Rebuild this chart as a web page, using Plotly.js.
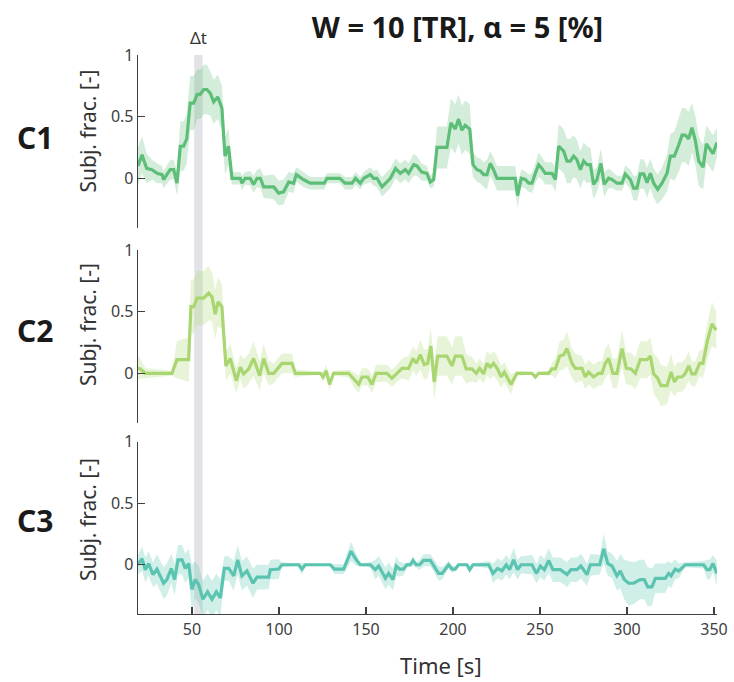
<!DOCTYPE html>
<html>
<head>
<meta charset="utf-8">
<script src="https://cdn.plot.ly/plotly-3.0.1.min.js"></script>
<style>html,body{margin:0;padding:0;background:#fff;}#chart{width:734px;height:682px;}</style>
</head>
<body>
<div id="chart"></div>
<script>
// ---------------- DATA ----------------
const chartTitle = "W = 10 [TR], α = 5 [%]";
const panelNames = ["C1", "C2", "C3"];
const yTitle = "Subj. frac. [-]";
const xTitle = "Time [s]";
const xTickVals = [50, 100, 150, 200, 250, 300, 350];
const yTickVals = [0, 0.5, 1];
const yTickText = ["0", "0.5", "1"];
const deltaT = [51.3, 56.1];   // highlighted window (s)

const c1Time = [19,21.3,24,27,30,32.8,33.7,37.5,39.5,41.4,
  43.3,45.2,47,49,51,53,54.8,56.7,58.6,60.5,
  62.5,64.8,67.2,69,71,73,77.8,78.7,80.6,83.5,
  85.4,87.4,89.3,91.2,97,99.8,102.7,105.6,108.4,110,
  114,118,126,127.6,135,138,142,144,146.7,148.7,
  152.5,154.4,156.3,159.2,162,164,167,169.7,172.6,174.5,
  177.4,179.3,182,185,187,188.9,190.8,196.5,198.8,201.3,
  203.2,205.1,207,209.6,211.5,213.8,215.7,217.6,219.5,221.4,
  223.3,225.3,235.8,237.1,239.2,241.5,243.5,245.4,247.3,249.2,
  251.1,253,256.9,258.8,260.7,263.6,265.5,267.4,269.3,271.2,
  273.2,275.1,277,278.9,280.8,282.7,285,286.9,289.4,291.3,
  294.2,297.1,299,301.9,303.8,305.7,307.6,309.6,311.5,313.4,
  315.3,317.6,320.1,323,324.9,327.2,329.7,331.6,333.5,335.4,
  337.3,339.2,341.2,343.7,345.6,347.5,349.4,351.7];
const c1Mean = [0.1,0.19,0.08,0.07,0.04,0.03,-0.01,0.07,0.07,-0.04,
  0.26,0.26,0.32,0.61,0.61,0.68,0.68,0.72,0.72,0.69,
  0.62,0.66,0.57,0.18,0.26,0,0,-0.04,0,0,
  -0.05,0,0,-0.07,-0.07,-0.12,-0.11,-0.03,-0.04,0.03,
  -0.01,-0.04,-0.04,0,0,-0.04,-0.04,0,-0.04,0,
  0.03,0,0,-0.07,-0.03,0,0.08,0.04,0.07,0.04,
  0.11,0.1,0.05,0.04,-0.03,-0.01,0.25,0.25,0.45,0.40,
  0.48,0.39,0.43,0.40,0.11,0.07,0.06,0.03,0.03,0.12,
  0.07,0,0,-0.14,0,-0.01,-0.04,-0.04,0.04,0.11,
  0.08,0.04,0.04,-0.01,0.26,0.22,0.14,0.14,0.18,0.15,
  0.07,0.14,0.11,0.11,-0.05,-0.01,0.12,-0.05,0,-0.01,
  -0.04,-0.04,0.035,-0.01,-0.08,-0.08,0.035,0.035,-0.035,0.04,
  -0.04,-0.09,-0.04,0.04,0.18,0.18,0.27,0.35,0.35,0.32,
  0.41,0.31,0.14,0.09,0.28,0.24,0.2,0.29];
const c1Ci = [0.15,0.15,0.12,0.08,0.08,0.07,0.07,0.08,0.08,0.1,
  0.2,0.2,0.2,0.22,0.22,0.2,0.2,0.2,0.2,0.18,
  0.18,0.18,0.18,0.15,0.15,0.05,0.05,0.06,0.05,0.06,
  0.07,0.07,0.08,0.09,0.1,0.1,0.1,0.08,0.08,0.06,
  0.06,0.05,0.05,0.04,0.04,0.05,0.05,0.05,0.05,0.05,
  0.06,0.06,0.07,0.08,0.08,0.08,0.08,0.08,0.08,0.08,
  0.09,0.08,0.07,0.06,0.05,0.06,0.17,0.17,0.2,0.2,
  0.2,0.2,0.2,0.2,0.1,0.1,0.1,0.1,0.12,0.1,
  0.1,0.1,0.1,0.1,0.07,0.07,0.07,0.08,0.08,0.1,
  0.09,0.09,0.09,0.1,0.18,0.18,0.18,0.18,0.17,0.16,
  0.15,0.15,0.15,0.14,0.12,0.1,0.12,0.1,0.08,0.07,
  0.06,0.06,0.07,0.08,0.1,0.1,0.12,0.12,0.12,0.12,
  0.12,0.12,0.13,0.15,0.18,0.2,0.22,0.22,0.22,0.22,
  0.2,0.2,0.2,0.18,0.15,0.15,0.15,0.12];

const c2Time = [19,20.3,23.2,38.5,41.4,48.1,49.4,51,52.9,56.7,
  59.6,61.5,63.4,65,67.2,69.5,72,75.5,77.8,79.7,
  82.6,85.4,88.9,91.2,94.1,97,101.7,107.5,109.4,123.8,
  125.3,127.2,129.1,131.4,140,142.9,145.8,147.7,151,153.4,
  155.9,162,164.9,167.8,170.7,174.5,177,178.9,181.2,183.5,
  185.4,187.3,189.2,191.2,196.5,199.4,201.3,205.1,207.6,210.9,
  213.4,215.3,217.6,219.5,221.4,223.3,225.6,227.6,229.5,233.3,
  236.8,245.4,247.3,249.2,254.9,256.9,258.8,261.3,263.6,265.5,
  268.4,270.3,274.1,276,277.9,280.8,283.7,285.6,287.5,289.4,
  291.9,294.2,297.1,299.6,302.3,304.8,307.6,311.5,313.4,315.3,
  317.6,319.5,323,325.3,327.2,329.1,331.6,333.5,335.4,337.3,
  339.2,341.7,343.6,346.3,348.8,351.3];
const c2Mean = [0.04,0.035,0,0,0.11,0.11,0.54,0.54,0.61,0.61,
  0.65,0.62,0.48,0.58,0.54,0.06,0.12,-0.06,0.05,-0.005,
  0.035,0.12,-0.02,0.12,0,0,0.08,0.08,0,0,
  -0.03,0.02,-0.09,0,0,-0.05,-0.09,-0.03,-0.03,-0.09,
  0,0,-0.04,0,0.04,0.04,0.12,0.08,0.15,0.07,
  0.08,0.22,-0.07,0.14,0.14,0.06,0.14,0.14,0.035,0.035,
  0,0.04,-0.005,0.08,0.05,0.08,0.035,-0.03,0.01,-0.09,
  0,0,-0.03,0,0,0.035,0.035,0.14,0.15,0.2,
  0.08,0.04,0.04,-0.03,0.01,-0.03,0,0,0.08,0.12,
  0,0,0.2,0.04,0.035,0,0.11,0.11,0.14,-0.005,
  -0.04,-0.1,-0.1,0.01,-0.07,-0.03,-0.03,0,0.06,-0.005,
  -0.005,0.08,0.08,0.27,0.4,0.35];
const c2Ci = [0.1,0.08,0.04,0.02,0.15,0.18,0.22,0.22,0.22,0.22,
  0.22,0.2,0.2,0.2,0.18,0.12,0.12,0.1,0.1,0.12,
  0.12,0.14,0.12,0.12,0.1,0.08,0.08,0.08,0.03,0.01,
  0.04,0.05,0.05,0.02,0.03,0.06,0.07,0.07,0.07,0.07,
  0.07,0.07,0.07,0.07,0.08,0.1,0.1,0.1,0.12,0.12,
  0.12,0.15,0.14,0.16,0.16,0.15,0.16,0.16,0.12,0.1,
  0.08,0.08,0.08,0.1,0.1,0.1,0.1,0.09,0.08,0.08,
  0.02,0.01,0.02,0.01,0.02,0.05,0.08,0.12,0.12,0.14,
  0.12,0.12,0.1,0.1,0.1,0.1,0.1,0.1,0.12,0.12,
  0.12,0.12,0.15,0.13,0.13,0.13,0.15,0.15,0.15,0.16,
  0.17,0.17,0.15,0.15,0.12,0.12,0.12,0.12,0.12,0.1,
  0.1,0.1,0.12,0.15,0.18,0.15];

const c3Time = [19,21.3,23.2,25.1,27.6,29.9,33.7,35.6,38.1,40,
  42,44.3,46.2,48.1,50,51.9,53.8,56.3,59,61.5,
  64,66.3,68.6,71.1,74,76.3,78.7,81.6,85.1,87.4,
  94.1,95,99.8,101.7,111.3,113.2,115.1,129.5,131.8,137.2,
  141.4,144.4,146.7,152.5,155.4,157.3,161.2,163,165.5,167.4,
  169.3,171.6,173.5,175.5,177,178.9,180.8,183.1,187,189.2,
  191.7,193.7,197.5,199.4,201.3,203.2,208,209.6,211.5,220.5,
  223,225.6,228.1,230.6,232.5,234.8,237.1,239.1,245.4,247.9,
  250.2,252.5,255,257.4,261.7,265.5,267.8,271.2,273.5,277,
  278.9,284.3,286.6,288.9,291.4,294.2,296.1,298.4,300.9,303.8,
  307.6,309.9,311.9,314.3,316.3,322,323.9,325.3,327.7,329.7,
  333.5,344,346,347.5,349.4,351.7];
const c3Mean = [0,0.05,-0.04,0.01,-0.08,-0.035,-0.15,-0.12,-0.03,-0.12,
  0.04,0.04,-0.03,0.01,-0.2,-0.12,-0.16,-0.28,-0.22,-0.28,
  -0.22,-0.27,-0.03,-0.03,-0.09,0.04,-0.09,-0.05,-0.15,-0.1,
  -0.1,-0.04,-0.035,0,0,-0.035,0,0,-0.035,-0.035,
  0.11,0.04,0,0,-0.04,-0.01,-0.11,-0.07,-0.12,-0.01,
  -0.035,-0.035,0,0,0.035,0,0,0.035,0.035,-0.01,
  -0.07,-0.07,0,-0.035,-0.035,0,0,-0.04,0,0,
  -0.07,-0.03,-0.05,0,-0.04,0.04,-0.04,0,0,-0.07,
  -0.01,-0.04,0.035,-0.04,-0.04,-0.08,-0.04,-0.04,-0.01,-0.08,
  0,0,0.13,0.01,-0.01,-0.09,-0.05,-0.12,-0.15,-0.15,
  -0.12,-0.12,-0.18,-0.18,-0.11,-0.11,-0.07,-0.09,-0.035,-0.05,
  0,0,-0.04,-0.04,0.01,-0.07];
const c3Ci = [0.08,0.1,0.1,0.1,0.1,0.12,0.13,0.13,0.12,0.13,
  0.12,0.12,0.12,0.12,0.2,0.15,0.15,0.15,0.15,0.15,
  0.15,0.15,0.1,0.1,0.12,0.12,0.12,0.12,0.12,0.1,
  0.1,0.08,0.08,0.02,0.01,0.05,0.01,0.01,0.04,0.04,
  0.08,0.05,0.01,0.02,0.08,0.08,0.09,0.09,0.09,0.08,
  0.06,0.05,0.02,0.02,0.04,0.02,0.04,0.05,0.05,0.05,
  0.06,0.05,0.03,0.03,0.02,0.01,0.01,0.02,0.01,0.03,
  0.08,0.08,0.08,0.08,0.08,0.1,0.08,0.07,0.08,0.08,
  0.09,0.09,0.1,0.1,0.1,0.1,0.1,0.1,0.1,0.09,
  0.09,0.08,0.12,0.1,0.1,0.12,0.14,0.16,0.18,0.17,
  0.16,0.16,0.16,0.15,0.12,0.12,0.1,0.1,0.08,0.06,
  0.02,0.03,0.08,0.08,0.07,0.1];

// ---------------- STYLE / LAYOUT ----------------
const W = 734, H = 682;
const plotL = 138, plotR = 717, plotT = 55, plotB = 614;
const pw = plotR - plotL, ph = plotB - plotT;
const px2x = p => (p - plotL) / pw;
const py2y = p => (plotB - p) / ph;
const FONT = "Noto Sans, Open Sans, sans-serif";
const axisCol = "#404040";

const series = [
  {t: c1Time, m: c1Mean, ci: c1Ci, line: "rgb(93,190,119)", band: "rgba(93,190,119,0.27)"},
  {t: c2Time, m: c2Mean, ci: c2Ci, line: "rgb(170,214,114)", band: "rgba(170,214,114,0.28)"},
  {t: c3Time, m: c3Mean, ci: c3Ci, line: "rgb(90,196,176)", band: "rgba(90,196,176,0.28)"}
];
const yAxisNames = ["y", "y2", "y3"];
const panelPx = [[55, 227.6], [250, 422.6], [441.7, 614]];

const traces = [];
series.forEach((s, i) => {
  const lo = s.m.map((v, k) => v - s.ci[k]);
  const hi = s.m.map((v, k) => v + s.ci[k]);
  traces.push({x: s.t, y: lo, xaxis: "x", yaxis: yAxisNames[i], mode: "lines",
    line: {width: 0, color: s.band}, hoverinfo: "skip", showlegend: false});
  traces.push({x: s.t, y: hi, xaxis: "x", yaxis: yAxisNames[i], mode: "lines",
    line: {width: 0, color: s.band}, fill: "tonexty", fillcolor: s.band,
    hoverinfo: "skip", showlegend: false});
  traces.push({x: s.t, y: s.m, xaxis: "x", yaxis: yAxisNames[i], mode: "lines",
    line: {width: 3.2, color: s.line}, showlegend: false});
});

function yAxis(i) {
  return {
    domain: [py2y(panelPx[i][1]), py2y(panelPx[i][0])],
    range: [-0.4, 1], anchor: "x",
    tickvals: yTickVals, ticktext: yTickText,
    ticks: "inside", ticklen: 7, tickwidth: 1.3, tickcolor: axisCol,
    showline: true, linecolor: axisCol, linewidth: 1.3,
    showgrid: false, zeroline: false,
    tickfont: {family: FONT, size: 16, color: axisCol}
  };
}

const annotations = [];
const labelY = [137.5, 330, 520];
const yTitleY = [131.5, 325, 520];
panelNames.forEach((n, i) => {
  annotations.push({text: "<b>" + n + "</b>", xref: "paper", yref: "paper",
    x: px2x(35), y: py2y(labelY[i]), xanchor: "center", yanchor: "middle",
    showarrow: false, font: {family: FONT, size: 30, color: "#1a1a1a"}});
  annotations.push({text: yTitle, xref: "paper", yref: "paper", textangle: -90,
    x: px2x(88), y: py2y(yTitleY[i]), xanchor: "center", yanchor: "middle",
    showarrow: false, font: {family: FONT, size: 21, color: "#333"}});
});
annotations.push({text: "Δt", xref: "x", yref: "paper",
  x: (deltaT[0] + deltaT[1]) / 2, y: py2y(37.5), xanchor: "center", yanchor: "middle",
  showarrow: false, font: {family: FONT, size: 17, color: "#333"}});
annotations.push({text: xTitle, xref: "paper", yref: "paper",
  x: px2x(441), y: py2y(665), xanchor: "center", yanchor: "middle",
  showarrow: false, font: {family: FONT, size: 22, color: "#333"}});

const layout = {
  width: W, height: H,
  margin: {l: plotL, r: W - plotR, t: plotT, b: H - plotB, pad: 0},
  paper_bgcolor: "#fff", plot_bgcolor: "rgba(0,0,0,0)",
  showlegend: false,
  title: {text: "<b>" + chartTitle + "</b>", xref: "paper", x: px2x(457.5), xanchor: "center",
    yref: "container", y: 1 - 28 / H, yanchor: "middle",
    font: {family: FONT, size: 29, color: "#1a1a1a"}},
  xaxis: {
    range: [19, 351.7], anchor: "y3",
    tickvals: xTickVals,
    ticks: "inside", ticklen: 7, tickwidth: 1.3, tickcolor: axisCol,
    showline: true, linecolor: axisCol, linewidth: 1.3,
    showgrid: false, zeroline: false,
    tickfont: {family: FONT, size: 16, color: axisCol}
  },
  yaxis: yAxis(0), yaxis2: yAxis(1), yaxis3: yAxis(2),
  shapes: [{type: "rect", xref: "x", yref: "paper", x0: deltaT[0], x1: deltaT[1],
    y0: 0, y1: 1, fillcolor: "#e2e3e6", line: {width: 0}, layer: "below"}],
  annotations: annotations
};

Plotly.newPlot("chart", traces, layout, {displayModeBar: false, staticPlot: true});
</script>
</body>
</html>
